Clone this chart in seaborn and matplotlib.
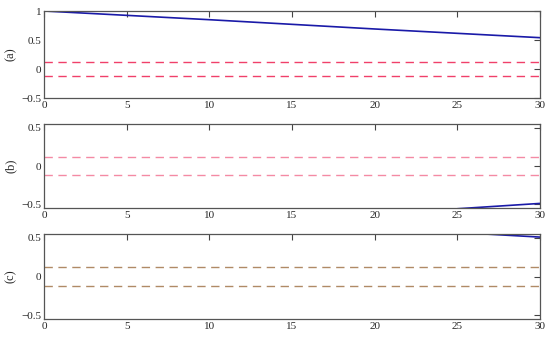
import numpy as np
import pandas as pd
import matplotlib
matplotlib.use('Agg')
import matplotlib.pyplot as plt
import seaborn as sns

# data
tA = [0, 5, 10, 15, 20, 25, 30]
valsA = [1.0, 0.925, 0.85, 0.77, 0.69, 0.615, 0.54]
tB = [25, 30]
valsB = [-0.56, -0.49]
tC = [25, 30]
valsC = [0.57, 0.51]
bandHi = 0.12
bandLo = -0.12
panelLabels = ['(a)', '(b)', '(c)']
xTicks = [0, 5, 10, 15, 20, 25, 30]

sns.set_style("white")
plt.rcParams['font.family'] = ['Liberation Serif', 'DejaVu Serif']

fig = plt.figure(figsize=(5.5, 3.37), dpi=100)
W, H = 550, 337
boxes = [(11, 98), (124, 208), (234, 319)]
left, right = 44, 540
axes = [fig.add_axes([left / W, 1 - b / H, (right - left) / W, (b - t) / H]) for t, b in boxes]

series = [(tA, valsA), (tB, valsB), (tC, valsC)]
ylims = [(-0.5, 1.0), (-0.55, 0.55), (-0.55, 0.55)]
yticks = [[-0.5, 0, 0.5, 1], [-0.5, 0, 0.5], [-0.5, 0, 0.5]]
dashColors = ['#f0406a', '#f48aa4', '#b08a66']

for ax, (t, v), yl, yt, lab, dc in zip(axes, series, ylims, yticks, panelLabels, dashColors):
    df = pd.DataFrame({'t': t, 'v': v})
    sns.lineplot(data=df, x='t', y='v', ax=ax, color='#1a1aa8', linewidth=1.2)
    ax.axhline(bandHi, color=dc, linestyle=(0, (6, 4)), linewidth=1.0)
    ax.axhline(bandLo, color=dc, linestyle=(0, (6, 4)), linewidth=1.0)
    ax.set_xlim(0, 30)
    ax.set_ylim(*yl)
    ax.set_xticks(xTicks)
    ax.set_yticks(yt)
    ax.set_yticklabels(['\u22120.5' if y == -0.5 else ('0.5' if y == 0.5 else str(int(y))) for y in yt])
    ax.set_xlabel('')
    ax.set_ylabel(lab, fontsize=9, labelpad=3)
    ax.tick_params(direction='in', top=True, right=True, labelsize=8, length=4, color='#444444', pad=2)
    for s in ax.spines.values():
        s.set_color('#555555')
        s.set_linewidth(0.9)

plt.savefig('out.png', dpi=100)
plt.close()
